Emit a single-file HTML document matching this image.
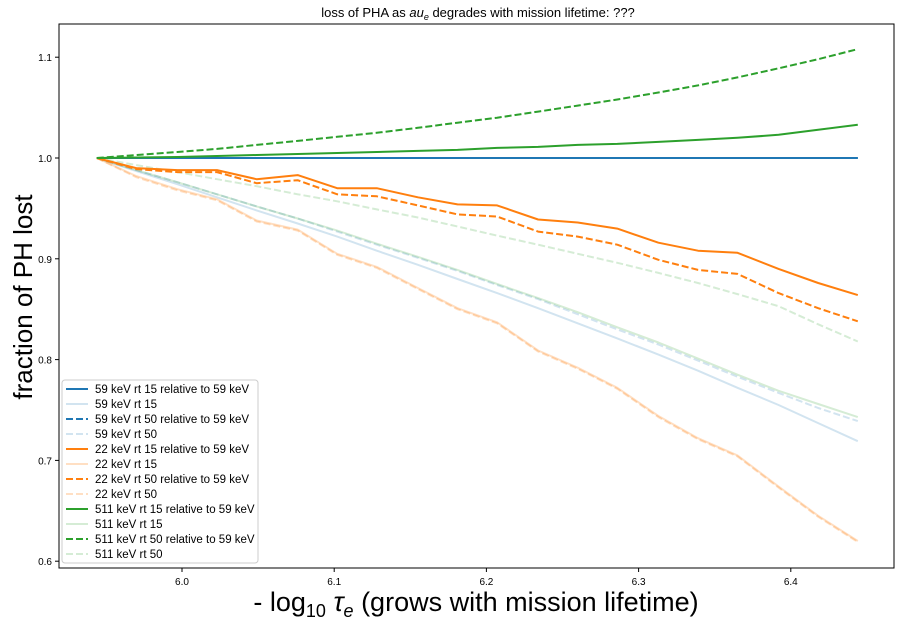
<!DOCTYPE html>
<html><head><meta charset="utf-8"><style>
body{margin:0;background:#fff}
text{font-family:"Liberation Sans","DejaVu Sans",sans-serif}
</style></head><body>
<svg id="chart" width="902" height="624" xmlns="http://www.w3.org/2000/svg">
<rect width="902" height="624" fill="#fff"/>
<g id="plot"></g>
<g id="axes"></g>
<g id="legend"></g>
</svg>
<script>
const xValues=[5.944,5.970,5.997,6.023,6.049,6.076,6.102,6.128,6.155,6.181,6.207,6.234,6.260,6.286,6.313,6.339,6.365,6.392,6.418,6.444];
const kev59rt15rel=[1,1,1,1,1,1,1,1,1,1,1,1,1,1,1,1,1,1,1,1];
const kev59rt15=[1.0,0.987,0.974,0.961,0.948,0.935,0.922,0.908,0.894,0.880,0.866,0.851,0.836,0.821,0.805,0.789,0.772,0.755,0.737,0.719];
const kev59rt50rel=[1,1,1,1,1,1,1,1,1,1,1,1,1,1,1,1,1,1,1,1];
const kev59rt50=[1.0,0.988,0.976,0.964,0.952,0.940,0.927,0.914,0.901,0.888,0.874,0.860,0.845,0.830,0.815,0.799,0.783,0.767,0.752,0.739];
const kev22rt15rel=[1.0,0.990,0.988,0.988,0.979,0.983,0.970,0.970,0.961,0.954,0.953,0.939,0.936,0.930,0.916,0.908,0.906,0.890,0.876,0.864];
const kev22rt15=[1.0,0.982,0.969,0.959,0.938,0.929,0.905,0.892,0.871,0.851,0.837,0.809,0.792,0.772,0.744,0.722,0.705,0.674,0.645,0.620];
const kev22rt50rel=[1.0,0.989,0.986,0.986,0.975,0.978,0.964,0.962,0.953,0.944,0.942,0.927,0.922,0.914,0.899,0.889,0.885,0.866,0.851,0.838];
const kev22rt50=[1.0,0.981,0.968,0.958,0.937,0.928,0.904,0.891,0.870,0.850,0.836,0.808,0.791,0.771,0.743,0.721,0.704,0.673,0.644,0.619];
const kev511rt15rel=[1.0,1.0005,1.001,1.002,1.003,1.004,1.005,1.006,1.007,1.008,1.010,1.011,1.013,1.014,1.016,1.018,1.020,1.023,1.028,1.033];
const kev511rt15=[1.0,0.988,0.976,0.964,0.952,0.940,0.928,0.915,0.902,0.889,0.875,0.861,0.847,0.832,0.817,0.801,0.785,0.769,0.756,0.743];
const kev511rt50rel=[1.0,1.003,1.006,1.009,1.013,1.017,1.021,1.025,1.030,1.035,1.040,1.046,1.052,1.058,1.065,1.072,1.080,1.089,1.098,1.108];
const kev511rt50=[1.0,0.993,0.986,0.979,0.972,0.964,0.957,0.949,0.941,0.932,0.923,0.914,0.905,0.896,0.886,0.876,0.865,0.853,0.835,0.818];
const xTicks=[6.0,6.1,6.2,6.3,6.4];
const yTicks=[0.6,0.7,0.8,0.9,1.0,1.1];
const legendLabels=["59 keV rt 15 relative to 59 keV","59 keV rt 15","59 keV rt 50 relative to 59 keV","59 keV rt 50","22 keV rt 15 relative to 59 keV","22 keV rt 15","22 keV rt 50 relative to 59 keV","22 keV rt 50","511 keV rt 15 relative to 59 keV","511 keV rt 15","511 keV rt 50 relative to 59 keV","511 keV rt 50"];

const L=59,R=894,T=24,B=568;
const xs=v=>182+(v-6.0)*1522;
const ys=v=>158-(v-1.0)*1008;
const NS="http://www.w3.org/2000/svg";
function mk(tag,attrs,parent){const e=document.createElementNS(NS,tag);for(const k in attrs)e.setAttribute(k,attrs[k]);parent.appendChild(e);return e;}
const plot=document.getElementById('plot'),axes=document.getElementById('axes'),leg=document.getElementById('legend');

const series=[
 [kev59rt15rel,'#1f77b4',1,false,'series-59kev-rt15-rel'],
 [kev59rt15,'#1f77b4',0.2,false,'series-59kev-rt15'],
 [kev59rt50rel,'#1f77b4',1,true,'series-59kev-rt50-rel'],
 [kev59rt50,'#1f77b4',0.2,true,'series-59kev-rt50'],
 [kev22rt15rel,'#ff7f0e',1,false,'series-22kev-rt15-rel'],
 [kev22rt15,'#ff7f0e',0.25,false,'series-22kev-rt15'],
 [kev22rt50rel,'#ff7f0e',1,true,'series-22kev-rt50-rel'],
 [kev22rt50,'#ff7f0e',0.25,true,'series-22kev-rt50'],
 [kev511rt15rel,'#2ca02c',1,false,'series-511kev-rt15-rel'],
 [kev511rt15,'#2ca02c',0.2,false,'series-511kev-rt15'],
 [kev511rt50rel,'#2ca02c',1,true,'series-511kev-rt50-rel'],
 [kev511rt50,'#2ca02c',0.2,true,'series-511kev-rt50'],
];
const order=[1,3,5,7,9,11,2,0,4,6,8,10];
order.forEach(i=>{
 const [d,c,o,dash,nm]=series[i];
 const pts=d.map((v,j)=>xs(xValues[j]).toFixed(1)+','+ys(v).toFixed(1)).join(' ');
 const p=mk('polyline',{points:pts,fill:'none',stroke:c,'stroke-opacity':o,'stroke-width':2,'stroke-linejoin':'round'},plot);
 if(dash)p.setAttribute('stroke-dasharray','7,3');
 
 
});

const frame=mk('rect',{x:L,y:T,width:R-L,height:B-T,fill:'none',stroke:'#000','stroke-width':1},axes);


xTicks.forEach(t=>{
 const x=xs(t);
 mk('line',{x1:x,x2:x,y1:B,y2:B+4,stroke:'#000'},axes);
 const tx=mk('text',{x:x,y:B+17,'font-size':10,'text-anchor':'middle'},axes);
 tx.textContent=t.toFixed(1);
 
 
});
yTicks.forEach(t=>{
 const y=ys(t);
 mk('line',{x1:L-4,x2:L,y1:y,y2:y,stroke:'#000'},axes);
 const tx=mk('text',{x:L-7,y:y+4,'font-size':10,'text-anchor':'end'},axes);
 tx.textContent=t.toFixed(1);
 
 
});
const title=mk('text',{x:478,y:17,'font-size':13,'text-anchor':'middle'},axes);
title.innerHTML='loss of PHA as <tspan font-style="italic">au</tspan><tspan font-style="italic" font-size="9" dy="3">e</tspan><tspan dy="-3"> degrades with mission lifetime: ???</tspan>';


const xl=mk('text',{x:476,y:611,'font-size':27,'text-anchor':'middle'},axes);
xl.innerHTML='- log<tspan font-size="18" dy="6">10</tspan><tspan dy="-6"> </tspan><tspan font-style="italic">τ</tspan><tspan font-size="18" font-style="italic" dy="6">e</tspan><tspan dy="-6"> (grows with mission lifetime)</tspan>';


const yl=mk('text',{x:0,y:0,'font-size':26,'text-anchor':'middle',transform:'translate(32,297) rotate(-90)'},axes);
yl.textContent='fraction of PH lost';



const lb=mk('rect',{x:62,y:380,width:196,height:183,rx:3,fill:'#fff','fill-opacity':0.8,stroke:'#ccc'},leg);


legendLabels.forEach((lab,i)=>{
 const [d,c,o,dash]=series[i];
 const y=389+i*15;
 const g=mk('g',{},leg);
 
 
 const ln=mk('line',{x1:66,x2:88,y1:y,y2:y,stroke:c,'stroke-opacity':o,'stroke-width':2},g);
 if(dash)ln.setAttribute('stroke-dasharray','7,3');
 const t=mk('text',{x:95,y:y+4,'font-size':11.5},g);
 t.textContent=lab;
});
</script>
</body></html>
